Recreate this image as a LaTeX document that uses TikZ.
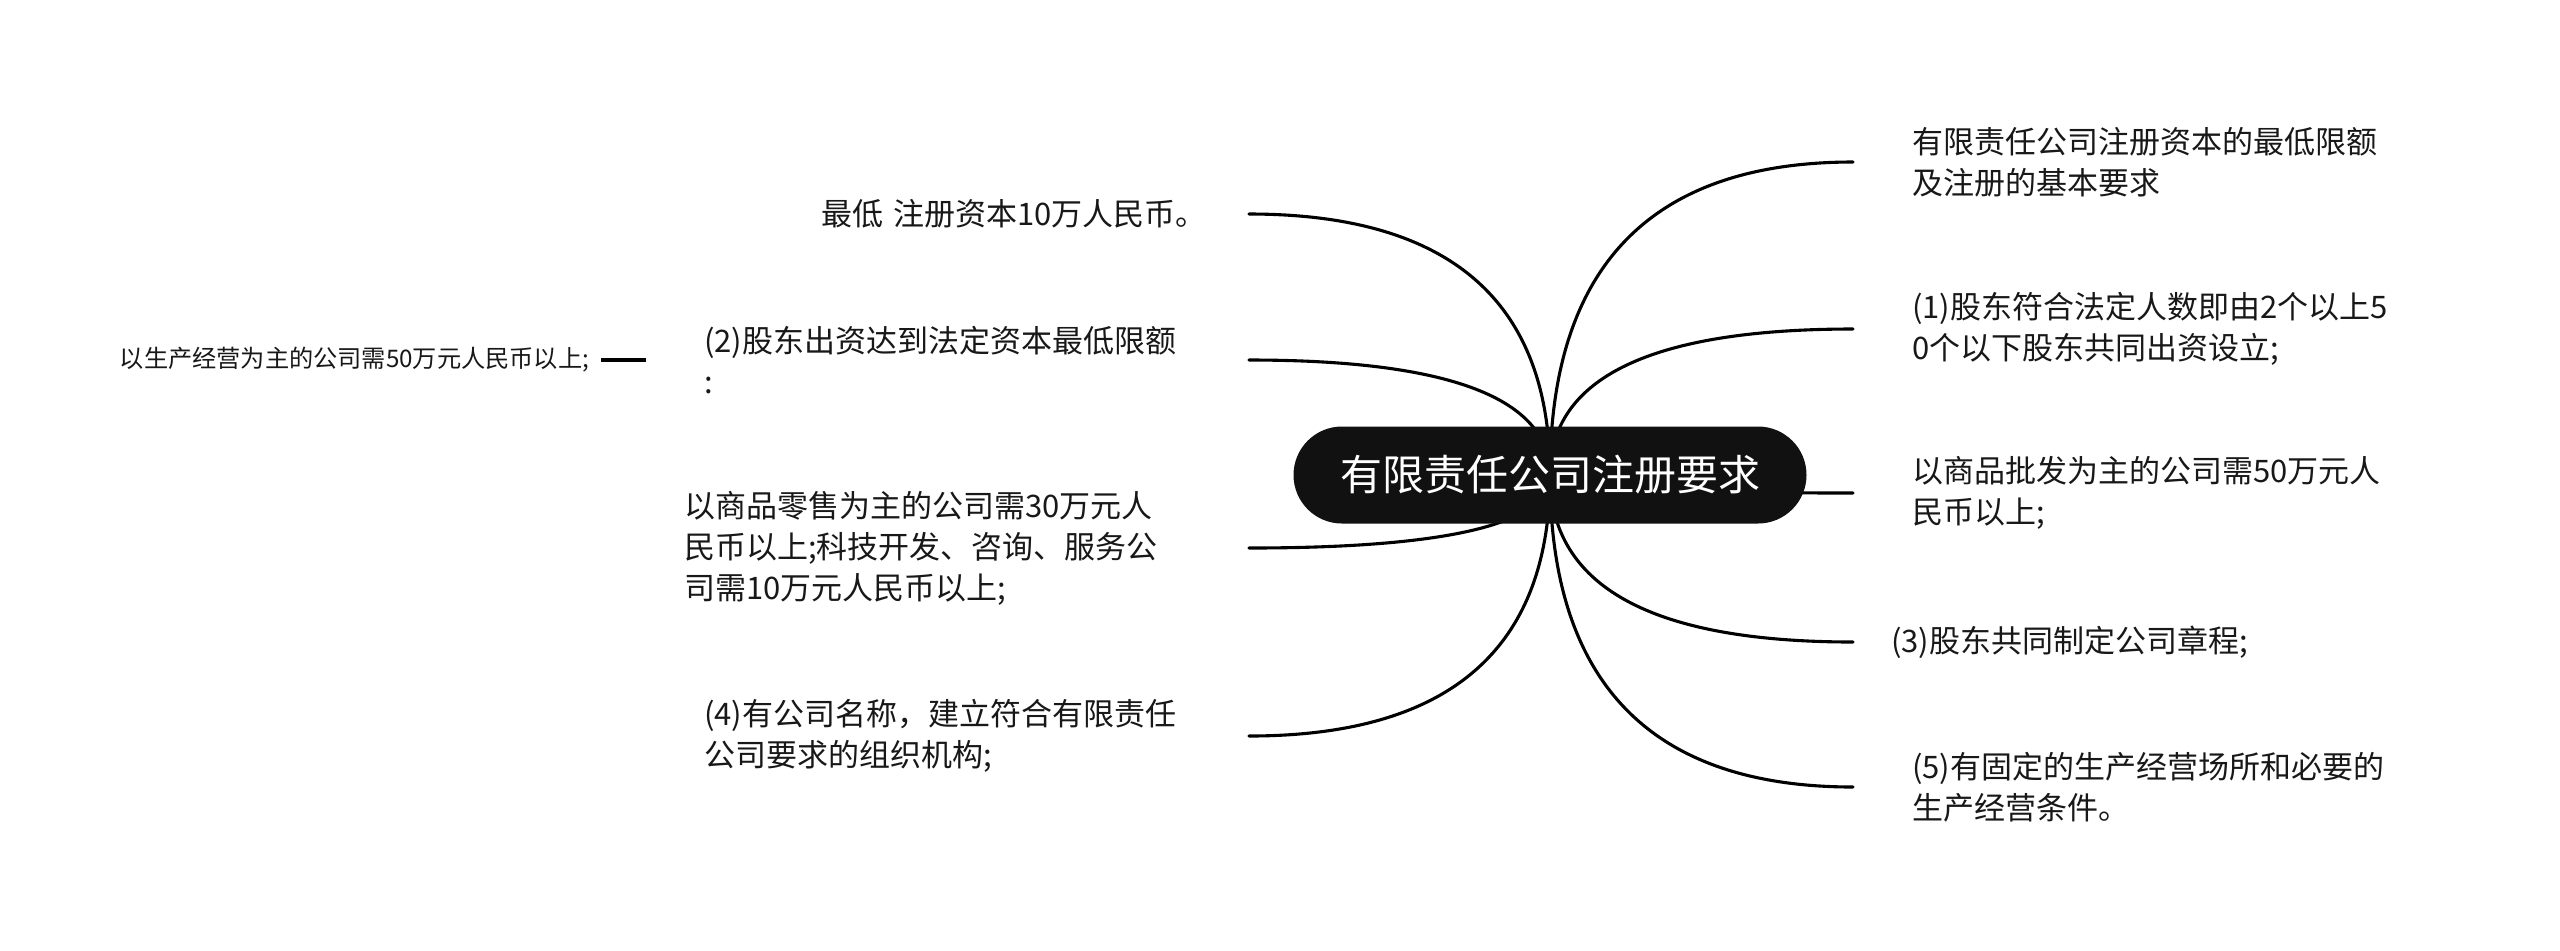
\documentclass[tikz,border=0pt]{standalone}
\usepackage{fontspec}
\setmainfont{Noto Sans CJK SC}
\usetikzlibrary{calc,backgrounds}
\definecolor{rootfill}{RGB}{17,17,17}
\definecolor{txt}{RGB}{24,24,24}
\newcommand\mmbranch[1]{\draw[conn] (root.center) .. controls ($(root.center)!2/3!(root.center |- #1)$) and ($(#1)!2/3!(root.center |- #1)$) .. (#1);}
\tikzset{
  conn/.style={line width=1.55pt, black, line cap=round},
  rootbox/.style={fill=rootfill, text=white, rounded corners=24.25pt, minimum width=256.5pt, minimum height=48.5pt, inner sep=0pt, font=\fontsize{21}{26}\selectfont},
  rtxt/.style={anchor=west, align=left, inner xsep=29.5pt, inner ysep=0pt, outer sep=0pt, text=txt, font=\fontsize{15.5}{20.5}\selectfont},
  ltxt/.style={anchor=east, align=left, inner xsep=10pt, inner ysep=0pt, outer sep=0pt, text=txt, font=\fontsize{15.5}{20.5}\selectfont},
  smalltxt/.style={anchor=east, inner xsep=6pt, inner ysep=0pt, outer sep=0pt, text=txt, font=\fontsize{12.1}{15}\selectfont},
}
\begin{document}
\begin{tikzpicture}[x=0.5pt, y=-0.5pt]
\useasboundingbox (0,0) rectangle (2560,950);
% central topic
\node[rootbox] (root) at (1550,475) {有限责任公司注册要求};
% right branches
\node[rtxt] (r1) at (1853,162) {有限责任公司注册资本的最低限额\\及注册的基本要求};
\node[rtxt] (r2) at (1853,329) {(1)股东符合法定人数即由2个以上5\\0个以下股东共同出资设立;};
\node[rtxt] (r3) at (1853,493) {以商品批发为主的公司需50万元人\\民币以上;};
\node[rtxt, inner xsep=19pt] (r4) at (1853,642) {(3)股东共同制定公司章程;};
\node[rtxt] (r5) at (1853,787) {(5)有固定的生产经营场所和必要的\\生产经营条件。};
% left branches
\node[ltxt, text width=204pt] (l1) at (1249,214) {最低 注册资本10万人民币。};
\node[ltxt, text width=262.5pt] (l2) at (1249,360) {(2)股东出资达到法定资本最低限额\\:};
\node[ltxt, text width=272.5pt] (l3) at (1249,548) {以商品零售为主的公司需30万元人\\民币以上;科技开发、咨询、服务公\\司需10万元人民币以上;};
\node[ltxt, text width=262.5pt] (l4) at (1249,736) {(4)有公司名称，建立符合有限责任\\公司要求的组织机构;};
% sub-branch of (2)
\node[smalltxt] (far) at (601,360) {以生产经营为主的公司需50万元人民币以上;};
\coordinate (l2in) at (646,360);
\begin{scope}[on background layer]
\fill[white] (0,0) rectangle (2560,950);
\mmbranch{r1.west}
\mmbranch{r2.west}
\mmbranch{r3.west}
\mmbranch{r4.west}
\mmbranch{r5.west}
\mmbranch{l1.east}
\mmbranch{l2.east}
\mmbranch{l3.east}
\mmbranch{l4.east}
\draw[conn, line width=2.1pt, line cap=butt] (far.east) -- (l2in);
\end{scope}
\end{tikzpicture}
\end{document}
